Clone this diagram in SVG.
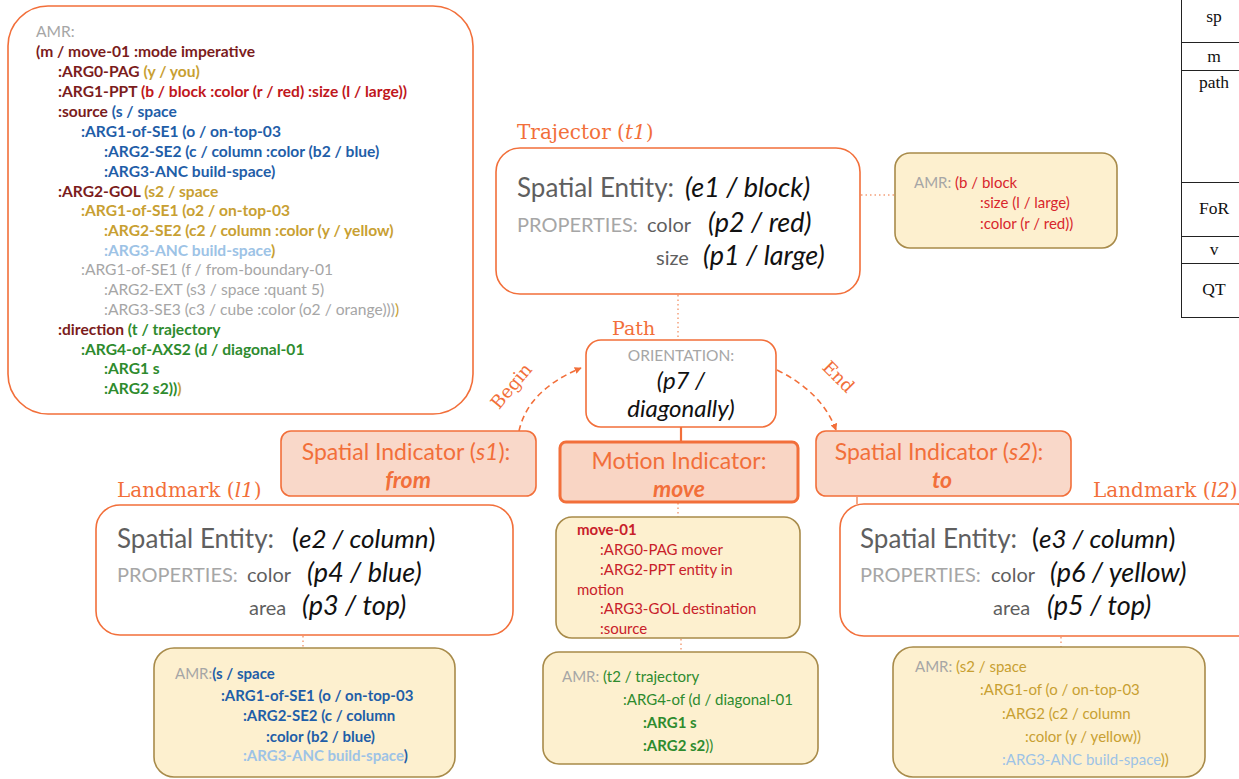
<svg xmlns="http://www.w3.org/2000/svg" width="1239" height="779" viewBox="0 0 1239 779">
<defs>
<style>
.sans{font-family:"Lato","Liberation Sans",sans-serif}
.serif{font-family:"DejaVu Serif","Liberation Serif",serif;fill:#F26F3A}
.amr{font-family:"Lato","Liberation Sans",sans-serif;font-size:15.6px;font-weight:bold}
.sm{font-family:"Lato","Liberation Sans",sans-serif;font-size:15px}
.nw{font-weight:normal}
.mar{fill:#7B1C1C}.red{fill:#C0171C}.blu{fill:#1F5EA8}.gld{fill:#C8A032}.lbl{fill:#9DC3E6}.gry{fill:#A6A6A6}.grn{fill:#2E8B2E}
.obox{fill:#fff;stroke:#F26F3A;stroke-width:1.6}
.ybox{fill:#FDF0CF;stroke:#A88B4A;stroke-width:1.6}
.ind{fill:#F9D8C9;stroke:#F26F3A;stroke-width:1.6}
.se{font-size:26px;fill:#5F5F5F}
.prop{font-size:20px;fill:#A6A6A6}
.pk{font-size:20px;fill:#5F5F5F}
.val{font-size:27px;font-style:italic;fill:#111}
.dot{stroke:#F4A07A;stroke-width:1.5;stroke-dasharray:1.5 3;fill:none}
.tbl{stroke:#222;stroke-width:1;fill:none}
.tt{font-family:"Liberation Serif",serif;font-size:17.5px;fill:#111;text-anchor:middle}
.it{fill:#F26F3A;font-family:"Lato","Liberation Sans",sans-serif;text-anchor:middle;font-size:23px}
</style>
<marker id="ah" viewBox="0 0 10 10" refX="9" refY="5" markerWidth="7" markerHeight="7" orient="auto" markerUnits="userSpaceOnUse">
<path d="M0,0 L10,5 L0,10 z" fill="#F26F3A"/>
</marker>
</defs>
<rect width="1239" height="779" fill="#fff"/>

<g id="connectors">
<line class="dot" x1="861" y1="195" x2="895" y2="195"/>
<line class="dot" x1="678" y1="295" x2="678" y2="338"/>
<line x1="681" y1="427" x2="681" y2="441" stroke="#F26F3A" stroke-width="2.2"/>
<line class="dot" x1="678" y1="503" x2="678" y2="517"/>
<line class="dot" x1="681" y1="639" x2="681" y2="652"/>
<line class="dot" x1="303" y1="636" x2="303" y2="648"/>
<line class="dot" x1="1061" y1="637" x2="1061" y2="647"/>
<line x1="857" y1="497" x2="857" y2="504" stroke="#F26F3A" stroke-width="1.2"/>
<path d="M519,431 Q528,390 581,368" fill="none" stroke="#F26F3A" stroke-width="1.6" stroke-dasharray="6 4" marker-end="url(#ah)"/>
<path d="M777,370 Q822,392 836,430" fill="none" stroke="#F26F3A" stroke-width="1.6" stroke-dasharray="6 4" marker-end="url(#ah)"/>
<text class="serif" font-size="18" transform="translate(516,390) rotate(-50)" text-anchor="middle">Begin</text>
<text class="serif" font-size="18" transform="translate(834,381) rotate(45)" text-anchor="middle">End</text>
</g>

<g id="amr-full">
<rect x="8" y="6" width="465" height="408" rx="40" class="obox"/>
<text class="amr" x="36" y="37"><tspan class="gry nw">AMR:</tspan></text>
<text class="amr mar" x="36" y="57">(m / move-01 :mode imperative</text>
<text class="amr" x="58" y="77"><tspan class="mar">:ARG0-PAG </tspan><tspan class="gld">(y / you)</tspan></text>
<text class="amr" x="58" y="97"><tspan class="mar">:ARG1-PPT </tspan><tspan class="red">(b / block :color (r / red) :size (l / large))</tspan></text>
<text class="amr" x="58" y="117"><tspan class="mar">:source </tspan><tspan class="blu">(s / space</tspan></text>
<text class="amr blu" x="81" y="137">:ARG1-of-SE1 (o / on-top-03</text>
<text class="amr blu" x="104" y="157">:ARG2-SE2 (c / column :color (b2 / blue)</text>
<text class="amr blu" x="104" y="177">:ARG3-ANC build-space)</text>
<text class="amr" x="58" y="197"><tspan class="mar">:ARG2-GOL </tspan><tspan class="gld">(s2 / space</tspan></text>
<text class="amr gld" x="81" y="216">:ARG1-of-SE1 (o2 / on-top-03</text>
<text class="amr gld" x="104" y="236">:ARG2-SE2 (c2 / column :color (y / yellow)</text>
<text class="amr" x="104" y="256"><tspan class="lbl">:ARG3-ANC build-space</tspan><tspan class="gld">)</tspan></text>
<text class="amr nw gry" x="81" y="275">:ARG1-of-SE1 (f / from-boundary-01</text>
<text class="amr nw gry" x="104" y="295">:ARG2-EXT (s3 / space :quant 5)</text>
<text class="amr nw" x="104" y="315"><tspan class="gry">:ARG3-SE3 (c3 / cube :color (o2 / orange)))</tspan><tspan class="gld">)</tspan></text>
<text class="amr" x="58" y="335"><tspan class="mar">:direction </tspan><tspan class="grn">(t / trajectory</tspan></text>
<text class="amr grn" x="81" y="355">:ARG4-of-AXS2 (d / diagonal-01</text>
<text class="amr grn" x="104" y="374">:ARG1 s</text>
<text class="amr" x="104" y="394"><tspan class="grn">:ARG2 s2))</tspan><tspan class="gld">)</tspan></text>
</g>

<g id="trajector">
<text class="serif" x="517" y="139" font-size="20">Trajector (<tspan font-style="italic">t1</tspan>)</text>
<rect x="496" y="148" width="364" height="146" rx="24" class="obox"/>
<text class="sans se" x="517" y="197">Spatial Entity:</text>
<text class="sans val" x="685" y="197" font-size="26">(e1 / block)</text>
<text class="sans prop" x="517" y="232">PROPERTIES:</text>
<text class="sans pk" x="647" y="232">color</text>
<text class="sans val" x="708" y="232">(p2 / red)</text>
<text class="sans pk" x="656" y="265">size</text>
<text class="sans val" x="703" y="265">(p1 / large)</text>
</g>

<g id="amr-block">
<rect x="895" y="153" width="222" height="95" rx="15" class="ybox"/>
<text class="sm" x="914" y="188" font-size="17"><tspan fill="#A6A6A6">AMR: </tspan><tspan fill="#D8262C">(b / block</tspan></text>
<text class="sm" x="980" y="208" font-size="17" fill="#D8262C">:size (l / large)</text>
<text class="sm" x="980" y="229" font-size="17" fill="#D8262C">:color (r / red))</text>
</g>

<g id="table">
<line class="tbl" x1="1181.5" y1="0" x2="1181.5" y2="317.5"/>
<line class="tbl" x1="1181" y1="42.5" x2="1239" y2="42.5"/>
<line class="tbl" x1="1181" y1="70.5" x2="1239" y2="70.5"/>
<line class="tbl" x1="1181" y1="182.5" x2="1239" y2="182.5"/>
<line class="tbl" x1="1181" y1="236.5" x2="1239" y2="236.5"/>
<line class="tbl" x1="1181" y1="263.5" x2="1239" y2="263.5"/>
<line class="tbl" x1="1181" y1="317.5" x2="1239" y2="317.5"/>
<text class="tt" x="1214" y="22">sp</text>
<text class="tt" x="1214" y="62">m</text>
<text class="tt" x="1214" y="88">path</text>
<text class="tt" x="1214" y="214">FoR</text>
<text class="tt" x="1214" y="255">v</text>
<text class="tt" x="1214" y="295">QT</text>
</g>

<g id="path">
<text class="serif" x="612" y="335" font-size="19">Path</text>
<rect x="586" y="340" width="190" height="87" rx="15" class="obox"/>
<text class="sans" x="681" y="361" font-size="15.5" fill="#A6A6A6" text-anchor="middle">ORIENTATION:</text>
<text class="sans" x="681" y="389" font-size="24" font-style="italic" fill="#111" text-anchor="middle">(p7 /</text>
<text class="sans" x="681" y="417" font-size="24" font-style="italic" fill="#111" text-anchor="middle">diagonally)</text>
</g>

<g id="spatial-indicator-s1">
<rect x="281" y="431" width="255" height="65" rx="10" class="ind"/>
<text class="it" x="406" y="460">Spatial Indicator (<tspan font-style="italic">s1</tspan>):</text>
<text class="it" x="408" y="488" font-weight="bold" font-style="italic">from</text>
</g>

<g id="motion-indicator">
<rect x="560" y="442" width="238" height="60" rx="6" fill="#F9D5C4" stroke="#F26F3A" stroke-width="3"/>
<text class="it" x="679" y="469">Motion Indicator:</text>
<text class="it" x="679" y="497" font-weight="bold" font-style="italic">move</text>
</g>

<g id="spatial-indicator-s2">
<rect x="816" y="431" width="255" height="65" rx="10" class="ind"/>
<text class="it" x="939" y="460">Spatial Indicator (<tspan font-style="italic">s2</tspan>):</text>
<text class="it" x="942" y="488" font-weight="bold" font-style="italic">to</text>
</g>

<g id="landmark-l1">
<text class="serif" x="117" y="497" font-size="20">Landmark (<tspan font-style="italic">l1</tspan>)</text>
<rect x="96" y="505" width="417" height="130" rx="24" class="obox"/>
<text class="sans se" x="117" y="548">Spatial Entity:</text>
<text class="sans" x="292" y="548" font-size="26" fill="#111">(<tspan font-style="italic">e2 / column</tspan>)</text>
<text class="sans prop" x="117" y="582">PROPERTIES:</text>
<text class="sans pk" x="247" y="582">color</text>
<text class="sans val" x="307" y="582">(p4 / blue)</text>
<text class="sans pk" x="249" y="615">area</text>
<text class="sans val" x="302" y="615">(p3 / top)</text>
</g>

<g id="landmark-l2">
<text class="serif" x="1093" y="497" font-size="20">Landmark (<tspan font-style="italic">l2</tspan>)</text>
<rect x="840" y="504" width="420" height="132" rx="24" class="obox"/>
<text class="sans se" x="860" y="548">Spatial Entity:</text>
<text class="sans" x="1032" y="548" font-size="26" fill="#111">(<tspan font-style="italic">e3 / column</tspan>)</text>
<text class="sans prop" x="860" y="582">PROPERTIES:</text>
<text class="sans pk" x="991" y="582">color</text>
<text class="sans val" x="1050" y="582">(p6 / yellow)</text>
<text class="sans pk" x="993" y="615">area</text>
<text class="sans val" x="1047" y="615">(p5 / top)</text>
</g>

<g id="move-01">
<rect x="556" y="517" width="244" height="121" rx="16" class="ybox"/>
<text class="sm" x="577" y="535" fill="#C8202A" font-weight="bold">move-01</text>
<text class="sm" x="600" y="555" fill="#C8202A">:ARG0-PAG mover</text>
<text class="sm" x="600" y="575" fill="#C8202A">:ARG2-PPT entity in</text>
<text class="sm" x="577" y="595" fill="#C8202A">motion</text>
<text class="sm" x="600" y="614" fill="#C8202A">:ARG3-GOL destination</text>
<text class="sm" x="600" y="634" fill="#C8202A">:source</text>
</g>

<g id="amr-l1">
<rect x="154" y="648" width="301" height="129" rx="20" class="ybox"/>
<text class="sm" x="175" y="679" font-weight="bold"><tspan class="gry nw">AMR:</tspan><tspan class="blu">(s / space</tspan></text>
<text class="sm blu" x="221" y="701" font-weight="bold">:ARG1-of-SE1 (o / on-top-03</text>
<text class="sm blu" x="243" y="721" font-weight="bold">:ARG2-SE2 (c / column</text>
<text class="sm blu" x="266" y="742" font-weight="bold">:color (b2 / blue)</text>
<text class="sm" x="243" y="761" font-weight="bold"><tspan class="lbl">:ARG3-ANC build-space</tspan><tspan class="blu">)</tspan></text>
</g>

<g id="amr-path">
<rect x="543" y="652" width="275" height="112" rx="16" class="ybox"/>
<text class="sm" x="562" y="682"><tspan class="gry">AMR: </tspan><tspan class="grn">(t2 / trajectory</tspan></text>
<text class="sm grn" x="623" y="705">:ARG4-of (d / diagonal-01</text>
<text class="sm grn" x="643" y="728" font-weight="bold">:ARG1 s</text>
<text class="sm grn" x="643" y="751"><tspan font-weight="bold">:ARG2 s2</tspan>))</text>
</g>

<g id="amr-l2">
<rect x="893" y="647" width="312" height="130" rx="20" class="ybox"/>
<text class="sm" x="915" y="672"><tspan class="gry">AMR: </tspan><tspan class="gld">(s2 / space</tspan></text>
<text class="sm gld" x="980" y="695">:ARG1-of (o / on-top-03</text>
<text class="sm gld" x="1002" y="719">:ARG2 (c2 / column</text>
<text class="sm gld" x="1025" y="742">:color (y / yellow))</text>
<text class="sm" x="1002" y="765"><tspan class="lbl">:ARG3-ANC build-space</tspan><tspan class="gld">))</tspan></text>
</g>
</svg>
